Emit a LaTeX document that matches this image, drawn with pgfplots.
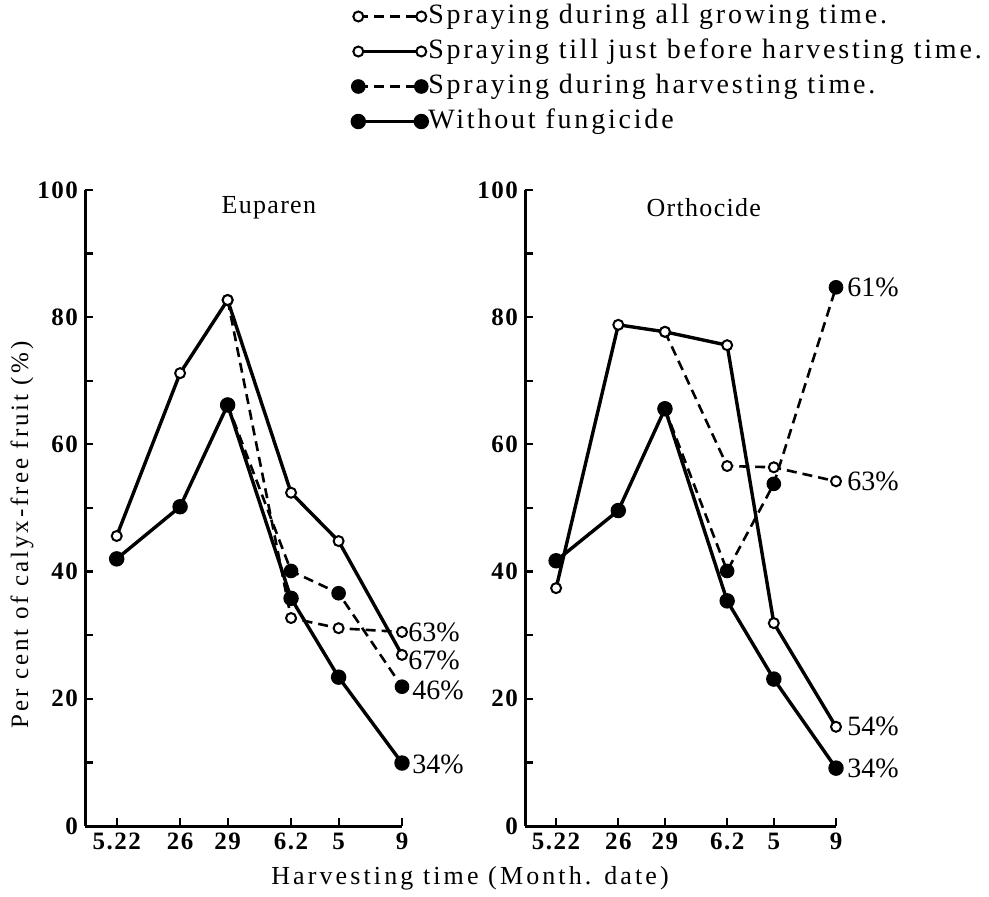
\documentclass[border=0pt]{standalone}
\usepackage{fontspec}
\setmainfont{Liberation Serif}
\newfontfamily\spaced{Liberation Serif}[LetterSpace=12]
\newfontfamily\wide{Liberation Serif}[LetterSpace=10]
\newfontfamily\ticks{Liberation Serif}[LetterSpace=6]
\newfontfamily\titlef{Liberation Serif}[LetterSpace=5]
\usepackage{pgfplots}
\pgfplotsset{compat=1.18}

\pgfplotsset{
  panel/.style={
    scale only axis, height=318pt,
    axis lines=left, axis line style={line width=1.5pt, -},
    xmin=20, xmax=40, ymin=0, ymax=100,
    xtick={22,26,29,33,36,40}, xticklabels={5.22,26,29,6.2,5,9},
    ytick={0,20,40,60,80,100}, minor ytick={10,30,50,70,90},
    tick align=inside, major tick length=4pt, minor tick length=4pt,
    every tick/.style={line width=1.1pt, black},
    every minor tick/.style={line width=1.1pt, black},
    minor tick style={line width=1.1pt, black},
    tick label style={font=\ticks\bfseries\fontsize{12.5}{13}\selectfont},
    /pgf/number format/assume math mode=true,
    clip=false,
    title style={font=\titlef\fontsize{13}{14}\selectfont, anchor=center},
  },
  odash/.style={black, line width=1.3pt, dash pattern=on 5pt off 3pt, mark=*, mark size=2.5pt, mark options={solid, fill=white, line width=1pt}},
  osolid/.style={black, line width=1.7pt, mark=*, mark size=2.5pt, mark options={solid, fill=white, line width=1pt}},
  fdash/.style={black, line width=1.3pt, dash pattern=on 5pt off 3pt, mark=*, mark size=3pt, mark options={solid, fill=black}},
  fsolid/.style={black, line width=1.7pt, mark=*, mark size=3pt, mark options={solid, fill=black}},
}
\tikzset{pct/.style={anchor=west, inner sep=0pt, font=\fontsize{14}{15}\selectfont}}

\begin{document}
\begin{tikzpicture}
\path (0,0) rectangle (494.5pt,446.5pt);

% Left panel: Euparen
\begin{axis}[panel, at={(42.5pt,33.5pt)}, anchor=south west, width=158.5pt,
  title={Euparen}, title style={at={(axis description cs:0.58,0.953)}},
  legend style={at={(axis description cs:0.842,1.297)}, anchor=north west, draw=none, fill=none,
    inner sep=0pt, row sep=2.5pt, font=\wide\fontsize{14}{15}\selectfont,
    nodes={text height=10pt, text depth=3pt, inner xsep=0.5pt, inner ysep=1pt}},
  legend cell align=left,
  legend image code/.code={\draw[#1] plot coordinates {(0pt,0pt) (31.5pt,0pt)};},
]
\addplot[odash] coordinates {(29,82.7)(33,32.7)(36,31.1)(40,30.5)};
\addlegendentry{Spraying during all growing time.}
\addplot[osolid] coordinates {(22,45.6)(26,71.2)(29,82.7)(33,52.4)(36,44.8)(40,26.9)};
\addlegendentry{Spraying till just before harvesting time.}
\addplot[fdash] coordinates {(29,66.2)(33,40.1)(36,36.6)(40,21.9)};
\addlegendentry{Spraying during harvesting time.}
\addplot[fsolid] coordinates {(22,42.0)(26,50.2)(29,66.2)(33,35.8)(36,23.4)(40,9.9)};
\addlegendentry{Without fungicide}
\node[pct, xshift=3pt] at (axis cs:40,30.5) {63\%};
\node[pct, xshift=3pt] at (axis cs:40,26.1) {67\%};
\node[pct, xshift=5pt] at (axis cs:40,21.4) {46\%};
\node[pct, xshift=5pt] at (axis cs:40,9.7) {34\%};
\end{axis}

% Right panel: Orthocide
\begin{axis}[panel, at={(262.5pt,33.5pt)}, anchor=south west, width=155.5pt,
  title={Orthocide}, title style={at={(axis description cs:0.575,0.953)}},
]
\addplot[odash] coordinates {(29,77.7)(33,56.6)(36,56.4)(40,54.2)};
\addplot[osolid] coordinates {(22,37.4)(26,78.8)(29,77.7)(33,75.6)(36,31.9)(40,15.6)};
\addplot[fdash] coordinates {(29,65.6)(33,40.1)(36,53.8)(40,84.7)};
\addplot[fsolid] coordinates {(22,41.7)(26,49.6)(29,65.6)(33,35.4)(36,23.1)(40,9.1)};
\node[pct, xshift=5.5pt] at (axis cs:40,84.7) {61\%};
\node[pct, xshift=5.5pt] at (axis cs:40,54.2) {63\%};
\node[pct, xshift=5.5pt] at (axis cs:40,15.7) {54\%};
\node[pct, xshift=5.5pt] at (axis cs:40,9.1) {34\%};
\end{axis}

\node[rotate=90, font=\spaced\fontsize{12.5}{14}\selectfont] at (11pt,179pt) {Per cent of calyx-free fruit (\%)};
\node[font=\spaced\fontsize{13}{14}\selectfont] at (235pt,7.5pt) {Harvesting time (Month. date)};
\end{tikzpicture}
\end{document}
